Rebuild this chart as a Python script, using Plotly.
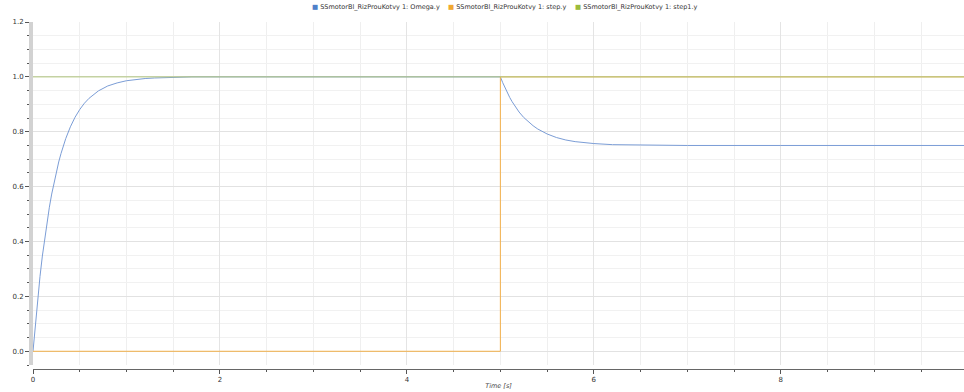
import plotly.graph_objects as go

# ---- data ----
t_omega = [0, 0.025, 0.05, 0.075, 0.1, 0.125, 0.15, 0.175, 0.2, 0.225, 0.25, 0.275, 0.3,
           0.35, 0.4, 0.45, 0.5, 0.55, 0.6, 0.7, 0.8, 0.9, 1.0, 1.1, 1.2, 1.3, 1.4, 1.5,
           1.6, 1.7, 2.5, 3.5, 4.5, 5.0, 5.025, 5.05, 5.075, 5.1, 5.125, 5.15, 5.175,
           5.2, 5.25, 5.3, 5.35, 5.4, 5.5, 5.6, 5.7, 5.8, 5.9, 6.0, 6.2, 6.5, 7.0, 8.0,
           9.0, 10.0]
omega = [0, 0.101, 0.192, 0.273, 0.347, 0.413, 0.472, 0.525, 0.573, 0.616, 0.655, 0.690,
         0.721, 0.775, 0.818, 0.853, 0.881, 0.904, 0.922, 0.949, 0.967, 0.978, 0.986,
         0.991, 0.994, 0.996, 0.997, 0.998, 0.999, 1.0, 1.0, 1.0, 1.0, 1.0, 0.979, 0.959,
         0.941, 0.925, 0.910, 0.896, 0.884, 0.872, 0.852, 0.836, 0.822, 0.810, 0.792,
         0.779, 0.770, 0.764, 0.760, 0.757, 0.753, 0.751, 0.750, 0.750, 0.750, 0.750]

t_step = [0, 5, 5, 10]
step = [0, 0, 1, 1]

t_step1 = [0, 10]
step1 = [1, 1]

names = ["SSmotorBl_RizProuKotvy 1: Omega.y",
         "SSmotorBl_RizProuKotvy 1: step.y",
         "SSmotorBl_RizProuKotvy 1: step1.y"]
line_colors = ["#7b9dd6", "#f3b04a", "#b3c77e"]
legend_colors = ["#4f7fc9", "#f0a830", "#9bbb3b"]

x_ticks = [0, 2, 4, 6, 8]
y_ticks = [0.0, 0.2, 0.4, 0.6, 0.8, 1.0, 1.2]

W, H = 964, 392
ML, MR, MT, MB = 33, 0, 22, 23
plot_w = W - ML - MR
plot_h = H - MT - MB

fig = go.Figure()
for xs, ys, nm, c in [(t_omega, omega, names[0], line_colors[0]),
                      (t_step, step, names[1], line_colors[1]),
                      (t_step1, step1, names[2], line_colors[2])]:
    fig.add_trace(go.Scatter(x=xs, y=ys, name=nm, mode="lines",
                             line=dict(color=c, width=1), showlegend=False))

font_main = "DejaVu Sans"

fig.update_layout(
    width=W, height=H,
    margin=dict(l=ML, r=MR, t=MT, b=MB, pad=0, autoexpand=False),
    paper_bgcolor="white", plot_bgcolor="white",
    font=dict(family=font_main, size=7, color="#333"),
    showlegend=False,
    xaxis=dict(
        range=[0, 9.96], anchor="free", position=0, automargin=False,
        tickmode="array", tickvals=x_ticks, ticktext=[str(v) for v in x_ticks],
        ticks="outside", ticklen=4, tickwidth=1, tickcolor="#555",
        showline=True, linecolor="#666", linewidth=1,
        showgrid=True, gridcolor="#e4e4e4", gridwidth=1,
        minor=dict(dtick=0.5, tick0=0, ticks="outside", ticklen=2, tickcolor="#555",
                   showgrid=True, gridcolor="#efefef", gridwidth=1),
        zeroline=False,
        tickfont=dict(size=7, color="#333"),
        title=dict(text="<i>Time [s]</i>", font=dict(size=6.5, color="#444"), standoff=0),
    ),
    yaxis=dict(
        range=[-0.05, 1.2], domain=[4 / plot_h, 1], automargin=False,
        tickmode="array", tickvals=y_ticks, ticktext=["%.1f" % v for v in y_ticks],
        ticks="outside", ticklen=4, tickwidth=1, tickcolor="#555",
        showline=True, linecolor="#d2d2d2", linewidth=4,
        showgrid=True, gridcolor="#e2e2e2", gridwidth=1,
        minor=dict(dtick=0.05, tick0=0, ticks="outside", ticklen=2, tickcolor="#555",
                   showgrid=True, gridcolor="#f1f1f1", gridwidth=1),
        zeroline=False,
        tickfont=dict(size=7, color="#333"),
    ),
)

# legend drawn as text annotations (square + label)
legend_px = [310, 446, 573]
for px, nm, c in zip(legend_px, names, legend_colors):
    fig.add_annotation(
        x=(px - ML) / plot_w, y=1, xref="paper", yref="paper",
        yshift=15, xanchor="left", yanchor="middle", showarrow=False,
        text="<span style='color:%s'>■</span> %s" % (c, nm),
        font=dict(family=font_main, size=6.5, color="#333"),
    )

fig.write_html("out.html",
               config={"displayModeBar": False},
               post_script="document.body.style.margin='0px';document.body.style.overflow='hidden';")
